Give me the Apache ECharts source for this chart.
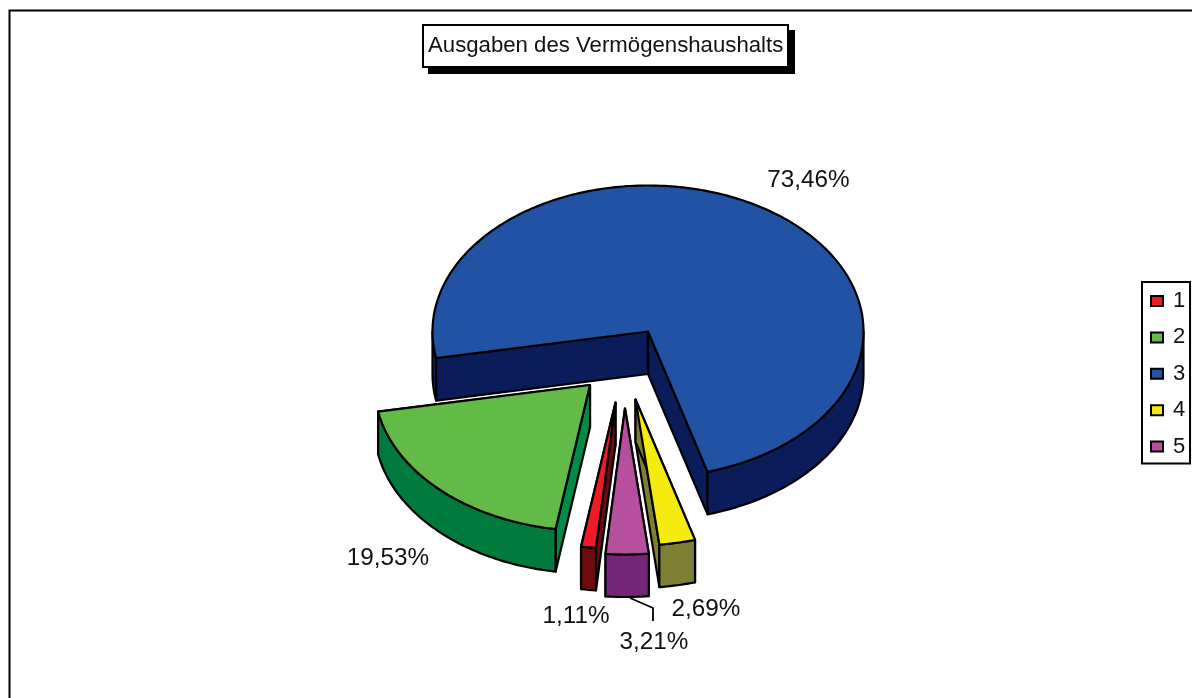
<!DOCTYPE html>
<html>
<head>
<meta charset="utf-8">
<style>html,body{margin:0;padding:0;background:#fff}#c{width:1192px;height:698px}</style>
<script src="https://cdn.jsdelivr.net/npm/echarts@6/dist/echarts.min.js"></script>
</head>
<body>
<div id="c"></div>
<script>
// --- data ---
const titleText = 'Ausgaben des Vermögenshaushalts';
const categories = ['1', '2', '3', '4', '5'];
const shares = [1.11, 19.53, 73.46, 2.69, 3.21];

// --- styling / layout, per category ---
const topColors = ['#ED1C24', '#62BB46', '#2152A3', '#F5EB0F', '#B54F9E'];
const wallColors = ['#6D0C0E', '#007A3D', '#0B1C5A', '#7F7F33', '#742676'];
const cutColors = ['#6D0C0E', '#008C47', '#0B1C5A', '#7F7F33', '#742676'];
const explode = [[-32.5, 71], [-58, 53.5], [0, 0], [-12.5, 68], [-23, 77]];
const labelPos = [[576, 616], [388, 558], [808.5, 180], [706, 609], [654, 642]];
const paintOrder = [3, 2, 1, 4, 5];
const leaders = [null, null, null, null, [[630, 598], [653, 608], [653, 621]]];

const CX = 648, CY = 331.5, RX = 215.5, RY = 146, DEPTH = 42.5;
const START = 185.2;
const FONT = '"Liberation Sans", Arial, sans-serif';
const total = shares.reduce((a, b) => a + b, 0);

function pt(t, ox, oy, dz) {
  const r = t * Math.PI / 180;
  return [CX + ox + RX * Math.sin(r), CY + oy - RY * Math.cos(r) + (dz || 0)];
}
function arcPts(a, b, ox, oy, dz) {
  const out = [];
  const n = Math.max(2, Math.ceil(b - a));
  for (let i = 0; i <= n; i++) out.push(pt(a + (b - a) * i / n, ox, oy, dz));
  return out;
}
const edge = { stroke: '#000', lineWidth: 2.2, lineJoin: 'round' };

function sliceRender(idx, a0, a1) {
  return function (params, api) {
    const [ox, oy] = explode[idx];
    const tip = [CX + ox, CY + oy];
    const tipLow = [tip[0], tip[1] + DEPTH];
    const children = [];
    // cut faces: the one nearest the front of the pie is painted last
    [a0, a1].sort(function (p, q) {
      return Math.abs(q - 180) - Math.abs(p - 180);
    }).forEach(function (a) {
      const p = pt(a, ox, oy), q = pt(a, ox, oy, DEPTH);
      children.push({ type: 'polygon', shape: { points: [tip, p, q, tipLow] },
        style: Object.assign({ fill: cutColors[idx] }, edge) });
    });
    // outer wall: only the part of the rim that faces the viewer
    [0, 360].forEach(function (k) {
      const s = Math.max(a0, 90 + k), e = Math.min(a1, 270 + k);
      if (e > s) {
        const front = arcPts(s, e, ox, oy, 0);
        const back = arcPts(s, e, ox, oy, DEPTH).reverse();
        children.push({ type: 'polygon', shape: { points: front.concat(back) },
          style: Object.assign({ fill: wallColors[idx] }, edge) });
      }
    });
    // top face
    children.push({ type: 'polygon', shape: { points: [tip].concat(arcPts(a0, a1, ox, oy, 0)) },
      style: Object.assign({ fill: topColors[idx] }, edge) });
    // leader line
    if (leaders[idx]) {
      children.push({ type: 'polyline', shape: { points: leaders[idx] },
        style: { stroke: '#000', lineWidth: 1.8, fill: null } });
    }
    // percentage label
    children.push({ type: 'text', style: {
      text: api.value(0).toFixed(2).replace('.', ',') + '%',
      x: labelPos[idx][0], y: labelPos[idx][1], align: 'center', verticalAlign: 'middle',
      fill: '#111', font: '24.3px ' + FONT } });
    return { type: 'group', children: children };
  };
}

let cursor = START;
const series = categories.map(function (name, i) {
  const a0 = cursor, a1 = cursor + shares[i] / total * 360;
  cursor = a1;
  return {
    type: 'custom', name: name, coordinateSystem: 'none', z: 2 + paintOrder[i],
    itemStyle: { color: topColors[i] }, silent: true, clip: false,
    data: [{ name: name, value: [shares[i]] }],
    renderItem: sliceRender(i, a0, a1)
  };
});

const chart = echarts.init(document.getElementById('c'), null, { renderer: 'canvas', width: 1192, height: 698 });
chart.setOption({
  animation: false,
  backgroundColor: '#fff',
  title: {
    text: titleText, left: 423, top: 25, z: 10,
    padding: [9, 5, 9, 5],
    borderColor: '#000', borderWidth: 2, backgroundColor: '#fff',
    textStyle: { fontFamily: FONT, fontSize: 22.2, fontWeight: 'normal', color: '#111', lineHeight: 24 }
  },
  legend: {
    orient: 'vertical', left: 1142, top: 282,
    data: categories, icon: 'rect', itemWidth: 12, itemHeight: 10, itemGap: 12.4,
    padding: [7, 4.8, 5, 8],
    borderColor: '#000', borderWidth: 2, backgroundColor: '#fff',
    selectedMode: false,
    itemStyle: { borderColor: '#000', borderWidth: 2 },
    textStyle: { fontFamily: FONT, fontSize: 22, color: '#111', lineHeight: 24, padding: [0, 0, 0, 5] }
  },
  graphic: [{
    type: 'rect', z: -1, silent: true,
    shape: { x: 9.5, y: 10.5, width: 1400, height: 1000 },
    style: { fill: null, stroke: '#000', lineWidth: 2 }
  }, {
    type: 'rect', z: 5, silent: true,
    shape: { x: 428, y: 30, width: 367, height: 44 },
    style: { fill: '#000' }
  }],
  series: series
});
</script>
</body>
</html>
